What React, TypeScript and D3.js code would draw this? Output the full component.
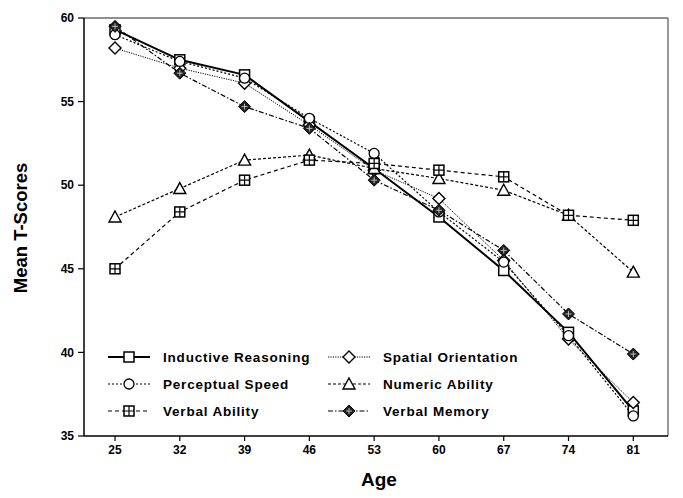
import React from "react";
import * as d3 from "d3";

const ages = [25, 32, 39, 46, 53, 60, 67, 74, 81];
const yTicks = [35, 40, 45, 50, 55, 60];

const inductiveReasoning = [59.3, 57.5, 56.6, 53.8, 51.0, 48.1, 44.9, 41.2, 36.5];
const perceptualSpeed = [59.0, 57.4, 56.4, 54.0, 51.9, 48.4, 45.4, 41.0, 36.2];
const spatialOrientation = [58.2, 57.0, 56.1, 53.6, 50.9, 49.2, 45.5, 40.8, 37.0];
const numericAbility = [48.1, 49.8, 51.5, 51.8, 51.0, 50.4, 49.7, 48.2, 44.8];
const verbalAbility = [45.0, 48.4, 50.3, 51.5, 51.3, 50.9, 50.5, 48.2, 47.9];
const verbalMemory = [59.5, 56.7, 54.7, 53.4, 50.3, 48.5, 46.1, 42.3, 39.9];

type Sym = "square" | "circle" | "diamond" | "triangle" | "squarePlus" | "diamondPlus";
const series: { name: string; values: number[]; sym: Sym; dash: string; width: number }[] = [
  { name: "Inductive Reasoning", values: inductiveReasoning, sym: "square", dash: "", width: 2 },
  { name: "Spatial Orientation", values: spatialOrientation, sym: "diamond", dash: "1.2,1.2", width: 1 },
  { name: "Perceptual Speed", values: perceptualSpeed, sym: "circle", dash: "2,2", width: 1.2 },
  { name: "Numeric Ability", values: numericAbility, sym: "triangle", dash: "3,2", width: 1.2 },
  { name: "Verbal Ability", values: verbalAbility, sym: "squarePlus", dash: "4,3", width: 1.2 },
  { name: "Verbal Memory", values: verbalMemory, sym: "diamondPlus", dash: "5,2,1.5,2", width: 1.2 },
];

const L = 84, R = 668, T = 18, B = 436;
const x = d3.scaleLinear().domain([21.65, 84.75]).range([L, R]);
const y = d3.scaleLinear().domain([35, 60]).range([B, T]);

function Marker({ sym, cx, cy }: { sym: Sym; cx: number; cy: number }) {
  const s = 5;
  switch (sym) {
    case "square":
      return <rect x={cx - s} y={cy - s} width={2 * s} height={2 * s} fill="#fff" stroke="#000" strokeWidth={1.5} />;
    case "circle":
      return <circle cx={cx} cy={cy} r={5} fill="#fff" stroke="#000" strokeWidth={1.3} />;
    case "diamond":
      return <path d={`M${cx},${cy - 6}L${cx + 6},${cy}L${cx},${cy + 6}L${cx - 6},${cy}Z`} fill="#fff" stroke="#000" strokeWidth={1.4} />;
    case "triangle":
      return <path d={`M${cx},${cy - 6}L${cx + 6},${cy + 5}L${cx - 6},${cy + 5}Z`} fill="#fff" stroke="#000" strokeWidth={1.4} />;
    case "squarePlus":
      return (
        <g>
          <rect x={cx - 5} y={cy - 5} width={10} height={10} fill="#fff" stroke="#000" strokeWidth={1.5} />
          <path d={`M${cx - 5},${cy}H${cx + 5}M${cx},${cy - 5}V${cy + 5}`} stroke="#000" strokeWidth={1.2} />
        </g>
      );
    case "diamondPlus":
      return (
        <g>
          <path d={`M${cx},${cy - 6}L${cx + 6},${cy}L${cx},${cy + 6}L${cx - 6},${cy}Z`} fill="#222" stroke="#000" strokeWidth={1} />
          <path d={`M${cx - 3},${cy}H${cx + 3}M${cx},${cy - 3}V${cy + 3}`} stroke="#bbb" strokeWidth={1} />
        </g>
      );
  }
}

const line = d3.line<number>().x((_, i) => x(ages[i])).y((v) => y(v));

export default function App() {
  const font = "Arial, 'Liberation Sans', Helvetica, sans-serif";
  const legendRows = [357, 384, 411];
  const legendCols = [
    { lx1: 108, lx2: 150, tx: 163 },
    { lx1: 328, lx2: 370, tx: 383 },
  ];
  return (
    <svg width={683} height={498} style={{ position: "absolute", left: 0, top: 0 }} fontFamily={font}>
      <rect x={0} y={0} width={683} height={498} fill="#fff" />
      <line x1={L} y1={T} x2={R} y2={T} stroke="#222" strokeWidth={1.2} />
      <line x1={R} y1={T} x2={R} y2={B} stroke="#555" strokeWidth={1.2} />
      <line x1={L} y1={T} x2={L} y2={B} stroke="#000" strokeWidth={1.5} />
      <line x1={L} y1={B} x2={R} y2={B} stroke="#000" strokeWidth={1.5} />
      {yTicks.map((t) => (
        <g key={t}>
          <line x1={L - 6} x2={L} y1={y(t)} y2={y(t)} stroke="#000" strokeWidth={1.2} />
          <text x={L - 10} y={y(t)} dy="0.35em" textAnchor="end" fontSize={12} fontWeight="bold">{t}</text>
        </g>
      ))}
      {ages.map((a) => (
        <g key={a}>
          <line x1={x(a)} x2={x(a)} y1={B} y2={B + 5} stroke="#000" strokeWidth={1.2} />
          <text x={x(a)} y={B + 18} textAnchor="middle" fontSize={12} fontWeight="bold">{a}</text>
        </g>
      ))}
      <text x={379} y={486} textAnchor="middle" fontSize={19} fontWeight="bold">Age</text>
      <text transform={`translate(27,228) rotate(-90)`} textAnchor="middle" fontSize={18.5} fontWeight="bold">Mean T-Scores</text>
      {series.map((s) => (
        <path key={s.name} d={line(s.values) || ""} fill="none" stroke="#000" strokeWidth={s.width} strokeDasharray={s.dash} />
      ))}
      {series.map((s) => (
        <g key={s.name + "m"}>
          {s.values.map((v, i) => (
            <Marker key={i} sym={s.sym} cx={x(ages[i])} cy={y(v)} />
          ))}
        </g>
      ))}
      {series.map((s, i) => {
        const col = legendCols[i % 2];
        const ry = legendRows[Math.floor(i / 2)];
        return (
          <g key={s.name + "l"}>
            <line x1={col.lx1} x2={col.lx2} y1={ry} y2={ry} stroke="#000" strokeWidth={s.width} strokeDasharray={s.dash} />
            <Marker sym={s.sym} cx={(col.lx1 + col.lx2) / 2} cy={ry} />
            <text x={col.tx} y={ry} dy="0.36em" fontSize={13.5} fontWeight="bold" letterSpacing={0.8}>{s.name}</text>
          </g>
        );
      })}
    </svg>
  );
}
